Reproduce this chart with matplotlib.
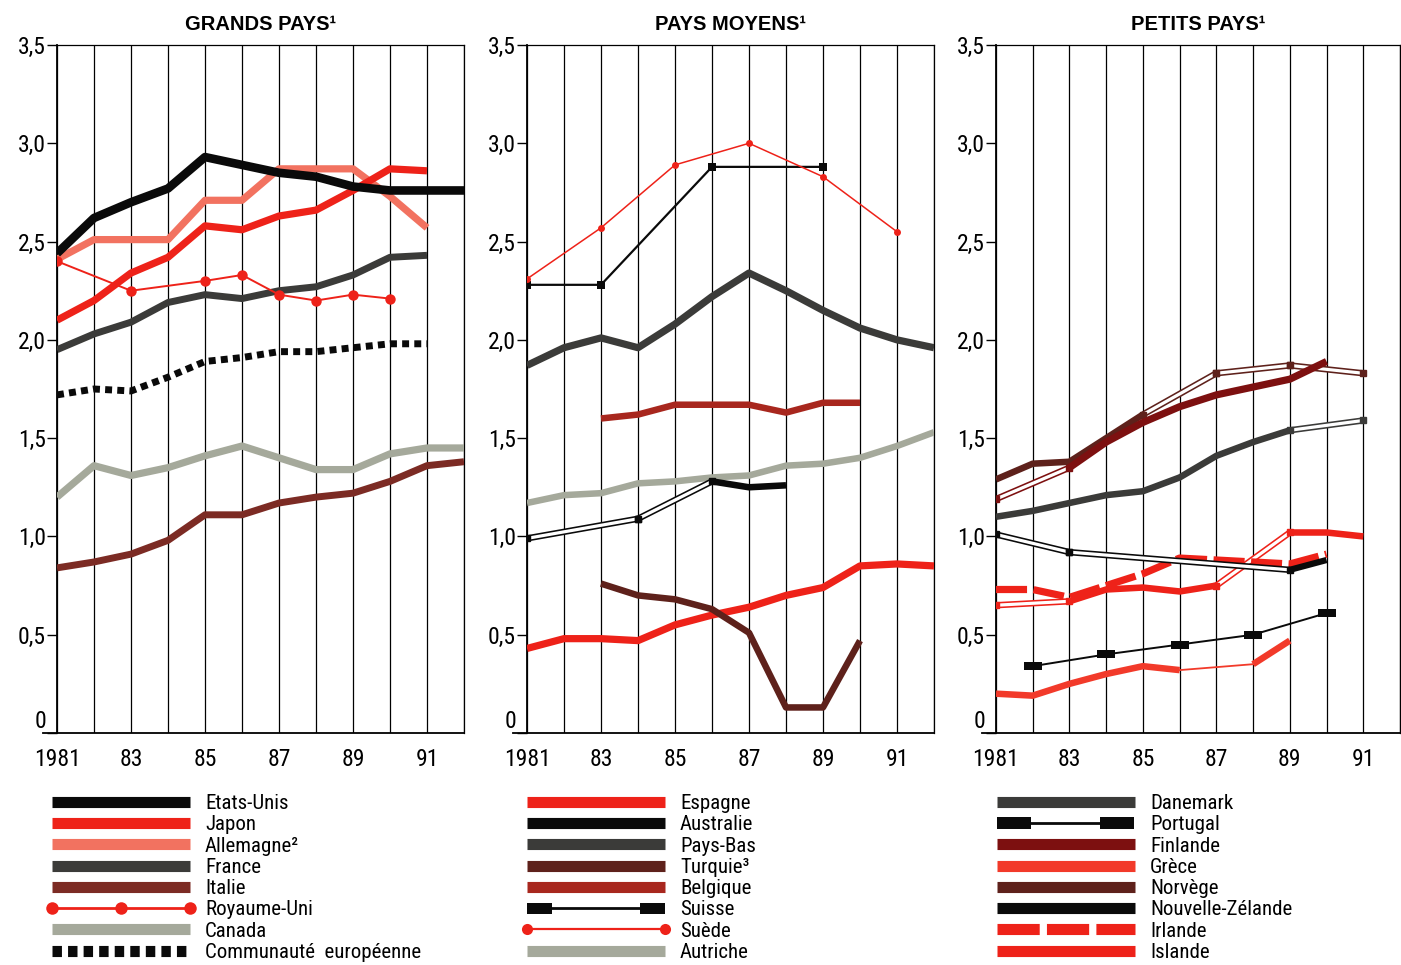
import numpy as np
import matplotlib
matplotlib.use('Agg')
import matplotlib.pyplot as plt
from matplotlib import font_manager
from matplotlib.lines import Line2D
from matplotlib.path import Path
from matplotlib.legend_handler import HandlerLine2D

nan = np.nan
years = np.arange(1981, 1993)
year_ticks = [1981, 1983, 1985, 1987, 1989, 1991]
year_labels = ['1981', '83', '85', '87', '89', '91']
y_ticks = [0, 0.5, 1.0, 1.5, 2.0, 2.5, 3.0, 3.5]
y_labels = ['0', '0,5', '1,0', '1,5', '2,0', '2,5', '3,0', '3,5']
titles = ['GRANDS PAYS¹', 'PAYS MOYENS¹', 'PETITS PAYS¹']

# ---- Grands pays ----
etats_unis = [2.44, 2.62, 2.70, 2.77, 2.93, 2.89, 2.85, 2.83, 2.78, 2.76, 2.76, 2.76]
japon = [2.10, 2.20, 2.34, 2.42, 2.58, 2.56, 2.63, 2.66, 2.76, 2.87, 2.86, nan]
allemagne = [2.41, 2.51, 2.51, 2.51, 2.71, 2.71, 2.87, 2.87, 2.87, 2.73, 2.57, nan]
france = [1.95, 2.03, 2.09, 2.19, 2.23, 2.21, 2.25, 2.27, 2.33, 2.42, 2.43, nan]
italie = [0.84, 0.87, 0.91, 0.98, 1.11, 1.11, 1.17, 1.20, 1.22, 1.28, 1.36, 1.38]
royaume_uni = [2.40, nan, 2.25, nan, 2.30, 2.33, 2.23, 2.20, 2.23, 2.21, nan, nan]
canada = [1.20, 1.36, 1.31, 1.35, 1.41, 1.46, 1.40, 1.34, 1.34, 1.42, 1.45, 1.45]
communaute = [1.72, 1.75, 1.74, 1.81, 1.89, 1.91, 1.94, 1.94, 1.96, 1.98, 1.98, nan]

# ---- Pays moyens ----
espagne = [0.43, 0.48, 0.48, 0.47, 0.55, 0.60, 0.64, 0.70, 0.74, 0.85, 0.86, 0.85]
australie = [0.99, nan, nan, 1.09, nan, 1.28, 1.25, 1.26, nan, nan, nan, nan]
pays_bas = [1.87, 1.96, 2.01, 1.96, 2.08, 2.22, 2.34, 2.25, 2.15, 2.06, 2.00, 1.96]
turquie = [nan, nan, 0.76, 0.70, 0.68, 0.63, 0.51, 0.13, 0.13, 0.47, nan, nan]
belgique = [nan, nan, 1.60, 1.62, 1.67, 1.67, 1.67, 1.63, 1.68, 1.68, nan, nan]
suisse = [2.28, nan, 2.28, nan, nan, 2.88, nan, nan, 2.88, nan, nan, nan]
suede = [2.31, nan, 2.57, nan, 2.89, nan, 3.00, nan, 2.83, nan, 2.55, nan]
autriche = [1.17, 1.21, 1.22, 1.27, 1.28, 1.30, 1.31, 1.36, 1.37, 1.40, 1.46, 1.53]

# ---- Petits pays ----
danemark = [1.10, 1.13, 1.17, 1.21, 1.23, 1.30, 1.41, 1.48, 1.54, nan, 1.59, nan]
portugal = [nan, 0.34, nan, 0.40, nan, 0.45, nan, 0.50, nan, 0.61, nan, nan]
finlande = [1.19, nan, 1.35, 1.48, 1.58, 1.66, 1.72, 1.76, 1.80, 1.89, nan, nan]
grece = [0.20, 0.19, 0.25, 0.30, 0.34, 0.32, nan, 0.35, 0.47, nan, nan, nan]
norvege = [1.29, 1.37, 1.38, 1.50, 1.62, nan, 1.83, nan, 1.87, nan, 1.83, nan]
nouvelle_zelande = [1.01, nan, 0.92, nan, nan, nan, nan, nan, 0.83, 0.88, nan, nan]
irlande = [0.73, 0.73, 0.69, 0.75, 0.81, 0.89, 0.88, 0.87, 0.86, 0.91, nan, nan]
islande = [0.65, nan, 0.67, 0.73, 0.74, 0.72, 0.75, nan, 1.02, 1.02, 1.00, nan]

# ---- fonts ----
names = {f.name for f in font_manager.fontManager.ttflist}
NARROW = 'Liberation Sans'
for cand in ['Liberation Sans Narrow', 'Roboto Condensed', 'Open Sans Condensed']:
    if cand in names:
        NARROW = cand
        break
plt.rcParams['font.family'] = [NARROW, 'DejaVu Sans']


def rect_marker(ratio):
    return Path([(-1, -ratio), (1, -ratio), (1, ratio), (-1, ratio), (-1, -ratio)],
                [Path.MOVETO, Path.LINETO, Path.LINETO, Path.LINETO, Path.CLOSEPOLY])


RECT = rect_marker(0.42)
RECT_SUI = rect_marker(0.44)
RECT_POR = rect_marker(0.34)


def draw_band(ax, vals, color, lw, gap='hollow', ls='-', z=3):
    v = np.asarray(vals, float)
    ax.plot(years, v, color=color, lw=lw, ls=ls, solid_capstyle='butt',
            dash_capstyle='butt', solid_joinstyle='round', zorder=z)
    idx = np.where(~np.isnan(v))[0]
    for a, b in zip(idx[:-1], idx[1:]):
        if b - a > 1:
            xs = years[[a, b]]
            ys = v[[a, b]]
            if gap == 'hollow':
                ax.plot(xs, ys, color=color, lw=4.6, solid_capstyle='butt', zorder=z)
                ax.plot(xs, ys, color='white', lw=2.3, solid_capstyle='butt', zorder=z)
                ax.plot(xs, ys, 's', color=color, ms=4.5, zorder=z)
            else:
                ax.plot(xs, ys, color=color, lw=1.3, zorder=z)


def draw_marked(ax, vals, color, lw, marker, ms, z=4):
    v = np.asarray(vals, float)
    m = ~np.isnan(v)
    ax.plot(years[m], v[m], color=color, lw=lw, marker=marker, ms=ms,
            markeredgewidth=0, zorder=z)


fig = plt.figure(figsize=(14.01, 9.65), dpi=100)
W, H = 1401.0, 965.0
lefts = [57, 527, 996]
rights = [464, 934, 1400]
ax_top, ax_bot = 45, 733
axes = []
for i in range(3):
    ax = fig.add_axes([lefts[i] / W, 1 - ax_bot / H, (rights[i] - lefts[i]) / W,
                       (ax_bot - ax_top) / H])
    ax.set_xlim(1981, 1992)
    ax.set_ylim(0, 3.5)
    ax.set_xticks(year_ticks)
    ax.set_xticklabels(year_labels)
    ax.set_xticks(list(years), minor=True)
    ax.set_yticks(y_ticks)
    ax.set_yticklabels(y_labels)
    ax.grid(axis='x', which='both', color='black', lw=0.9)
    ax.set_axisbelow(True)
    ax.tick_params(axis='x', which='both', length=0, pad=11, labelsize=17)
    ax.tick_params(axis='y', length=7, width=1, pad=1, labelsize=17)
    for lab in ax.get_yticklabels():
        if lab.get_text() == '0':
            lab.set_va('bottom')
    for s in ['left', 'bottom']:
        ax.spines[s].set_linewidth(1.3)
    for s in ['top', 'right']:
        ax.spines[s].set_linewidth(0.9)
    ax.spines['bottom'].set_bounds(1981 - 14 / 37.0, 1992)
    ax.set_title(titles[i], fontsize=14.5, fontweight='bold',
                 family=['Liberation Sans', 'DejaVu Sans'], pad=11)
    axes.append(ax)

# colours
BLACK = '#0a0a0a'
RED = '#ee2219'
SALMON = '#f27260'
DGRAY = '#3b3b39'
BROWN = '#7c2b24'
GRAYG = '#a5a99b'
DBROWN = '#5e211b'
BRED = '#a8271e'
FRED = '#7d1010'
GRED = '#f23a2a'

# panel 1
a = axes[0]
draw_band(a, canada, GRAYG, 5.2)
draw_band(a, italie, BROWN, 5.0)
draw_band(a, communaute, BLACK, 5.0, ls=(0, (1.0, 0.75)))
draw_band(a, france, DGRAY, 5.0)
draw_marked(a, royaume_uni, RED, 1.4, 'o', 7.5)
draw_band(a, allemagne, SALMON, 5.2)
draw_band(a, japon, RED, 5.2)
draw_band(a, etats_unis, BLACK, 6.2)

# panel 2
a = axes[1]
draw_band(a, autriche, GRAYG, 4.7)
draw_band(a, espagne, RED, 5.2)
draw_band(a, turquie, DBROWN, 4.7)
draw_band(a, belgique, BRED, 4.7)
draw_band(a, australie, BLACK, 4.7)
draw_band(a, pays_bas, DGRAY, 5.2)
draw_marked(a, suisse, BLACK, 1.6, 's', 5.5)
draw_marked(a, suede, RED, 1.1, 'o', 5.0)

# panel 3
a = axes[2]
draw_band(a, grece, GRED, 4.7, gap='thin')
draw_marked(a, portugal, BLACK, 1.4, RECT, 13)
draw_band(a, islande, RED, 4.7)
draw_band(a, irlande, RED, 5.2, ls=(0, (4.3, 0.9)))
draw_band(a, nouvelle_zelande, BLACK, 4.5)
draw_band(a, danemark, DGRAY, 4.7)
draw_band(a, norvege, DBROWN, 4.7)
draw_band(a, finlande, FRED, 5.2)

# ---- legends ----
LW = 8.0
legend_specs = [
    [('Etats-Unis', dict(color=BLACK, lw=LW)),
     ('Japon', dict(color=RED, lw=LW)),
     ('Allemagne²', dict(color=SALMON, lw=LW)),
     ('France', dict(color=DGRAY, lw=LW)),
     ('Italie', dict(color=BROWN, lw=LW)),
     ('Royaume-Uni', dict(color=RED, lw=2, marker='o', ms=9)),
     ('Canada', dict(color=GRAYG, lw=LW)),
     ('Communauté  européenne', dict(color=BLACK, lw=LW, ls=(0, (0.85, 0.55))))],
    [('Espagne', dict(color=RED, lw=LW)),
     ('Australie', dict(color=BLACK, lw=LW)),
     ('Pays-Bas', dict(color=DGRAY, lw=LW)),
     ('Turquie³', dict(color=DBROWN, lw=LW)),
     ('Belgique', dict(color=BRED, lw=LW)),
     ('Suisse', dict(color=BLACK, lw=2, marker=RECT_SUI, ms=18)),
     ('Suède', dict(color=RED, lw=1.6, marker='o', ms=8)),
     ('Autriche', dict(color=GRAYG, lw=LW))],
    [('Danemark', dict(color=DGRAY, lw=LW)),
     ('Portugal', dict(color=BLACK, lw=2, marker=RECT_POR, ms=25)),
     ('Finlande', dict(color=FRED, lw=LW)),
     ('Grèce', dict(color=GRED, lw=LW)),
     ('Norvège', dict(color=DBROWN, lw=LW)),
     ('Nouvelle-Zélande', dict(color=BLACK, lw=LW)),
     ('Irlande', dict(color=RED, lw=LW, ls=(0, (3.8, 0.65)))),
     ('Islande', dict(color=RED, lw=LW))],
]
leg_x = [45.8, 520.8, 990.8]
leg_numpoints = [3, 2, 2]
marker_pads = {id(RECT_SUI): 0.89, id(RECT_POR): 1.13}
for i, specs in enumerate(legend_specs):
    handles, labels, hmap = [], [], {}
    for lab, kw in specs:
        h = Line2D([], [], solid_capstyle='butt', dash_capstyle='butt',
                   markeredgewidth=0, **kw)
        mk = kw.get('marker')
        if mk is not None and id(mk) in marker_pads:
            hmap[h] = HandlerLine2D(marker_pad=marker_pads[id(mk)])
        handles.append(h)
        labels.append(lab)
    fig.legend(handles, labels, loc='upper left',
               bbox_to_anchor=(leg_x[i] / W, 1 - 794 / H),
               frameon=False, fontsize=15, handlelength=7.2,
               handletextpad=0.44, labelspacing=0.11, borderpad=0,
               borderaxespad=0, numpoints=leg_numpoints[i], handler_map=hmap)

fig.savefig('out.png', dpi=100)
